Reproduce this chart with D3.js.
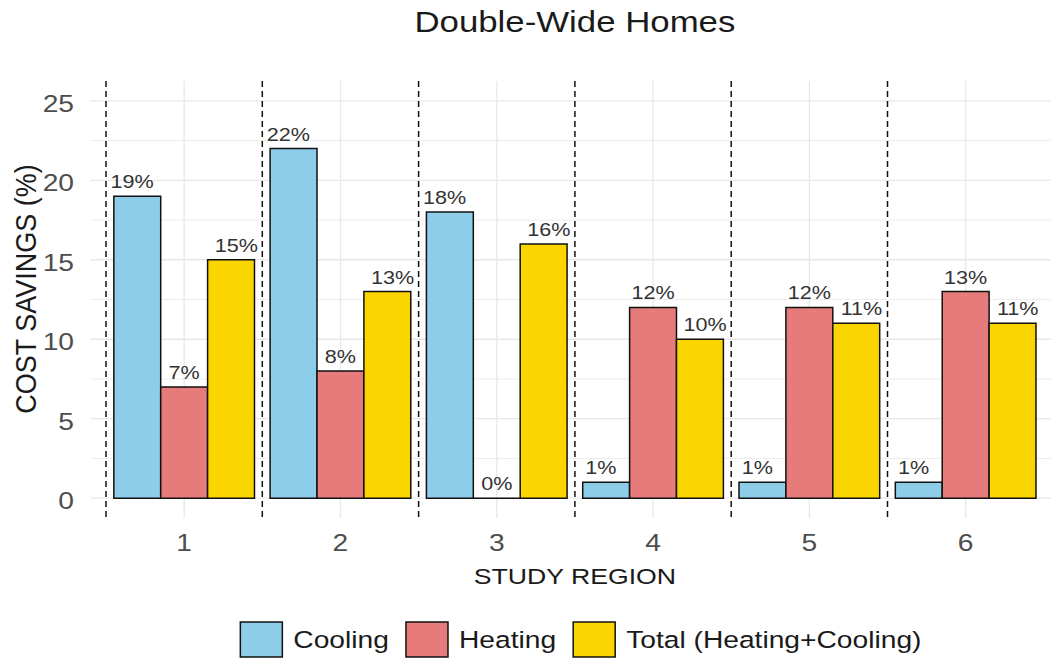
<!DOCTYPE html>
<html><head><meta charset="utf-8">
<script src="https://cdn.jsdelivr.net/npm/d3@7"></script>
<style>body{margin:0;background:#fff} text{font-family:"Liberation Sans",Arial,sans-serif}</style>
</head><body><svg id="chart" width="1051" height="660"></svg>
<script>
const regions = ["1","2","3","4","5","6"];
const seriesNames = ["Cooling","Heating","Total (Heating+Cooling)"];
const cooling = [19,22,18,1,1,1];
const heating = [7,8,0,12,12,13];
const total = [15,13,16,10,11,11];
const yTicks = [0,5,10,15,20,25];
const yMinorTicks = [2.5,7.5,12.5,17.5,22.5];
const colors = ["#8ecdea","#e77b7b","#fad500"];
const titleText = "Double-Wide Homes";
const xTitle = "STUDY REGION";
const yTitle = "COST SAVINGS (%)";

const seriesValues = [cooling, heating, total];
const data = [];
regions.forEach((r,i)=>seriesNames.forEach((s,j)=>data.push({region:r, series:s, value:seriesValues[j][i], k:j})));

const svg = d3.select("#chart");
const SX = 1.2;
function stext(parent, x, y, str, size, anchor, fill, sx){
  return parent.append("text")
    .attr("transform", `translate(${x},${y}) scale(${sx===undefined?SX:sx},1)`)
    .attr("text-anchor", anchor).attr("font-size", size).attr("fill", fill).text(str);
}

const x = d3.scaleBand().domain(regions).range([106, 1043.8]).padding(0);
const bw = x.bandwidth();
const xIn = d3.scaleBand().domain(seriesNames).range([0.05*bw, 0.95*bw]).padding(0);
const y = d3.scaleLinear().domain([-1.25, 26.25]).range([518, 81]);
const panelL = x(regions[0]) - 0.1*bw, panelR = x(regions[5]) + 1.1*bw;

// grid
const grid = svg.append("g");
grid.selectAll(".minor").data(yMinorTicks).join("line")
  .attr("x1", panelL).attr("x2", panelR).attr("y1", d=>y(d)).attr("y2", d=>y(d))
  .attr("stroke", "#ececec").attr("stroke-width", 1);
grid.selectAll(".major").data(yTicks).join("line")
  .attr("x1", panelL).attr("x2", panelR).attr("y1", d=>y(d)).attr("y2", d=>y(d))
  .attr("stroke", "#e8e8e8").attr("stroke-width", 1.3);
grid.selectAll(".vx").data(regions).join("line")
  .attr("x1", d=>x(d)+bw/2).attr("x2", d=>x(d)+bw/2).attr("y1", 81).attr("y2", 518)
  .attr("stroke", "#e8e8e8").attr("stroke-width", 1.3);

// dashed separators
svg.append("g").selectAll("line").data(regions).join("line")
  .attr("x1", d=>x(d)).attr("x2", d=>x(d)).attr("y1", 81).attr("y2", 518)
  .attr("stroke", "#111").attr("stroke-width", 1.5).attr("stroke-dasharray", "6,4");

// bars
svg.append("g").selectAll("path").data(data).join("path")
  .attr("d", d=>{
    const x0 = x(d.region)+xIn(d.series), x1 = x0 + xIn.bandwidth();
    const y0 = y(0), y1 = y(d.value);
    return `M${x0},${y0}H${x1}V${y1}H${x0}Z`;
  })
  .attr("fill", d=>colors[d.k]).attr("stroke", "#111").attr("stroke-width", 1.5).attr("stroke-linejoin","miter");

// value labels
const lab = svg.append("g");
data.forEach(d=>{
  const cx = x(d.region) + bw/2 + (d.k-1)*bw/3;
  stext(lab, cx, y(d.value)-8, d.value+"%", 18, "middle", "#333");
});

// y ticks
const yt = svg.append("g");
yTicks.forEach(t=>stext(yt, 74, y(t)+11, String(t), 23.5, "end", "#4d4d4d"));
// x ticks
const xt = svg.append("g");
regions.forEach(r=>stext(xt, x(r)+bw/2, 551, r, 23.5, "middle", "#4d4d4d"));

// titles
const cx = (panelL+panelR)/2;
stext(svg, cx, 32, titleText, 29, "middle", "#1a1a1a");
stext(svg, cx, 584, xTitle, 22.2, "middle", "#1a1a1a");
svg.append("text").attr("transform", `translate(36,289) scale(1.08,1) rotate(-90)`)
  .attr("text-anchor","middle").attr("font-size", 27).attr("fill","#1a1a1a").text(yTitle);

// legend
const leg = svg.append("g");
const keyW = 42, keyH = 35, gapKT = 11, gapItem = 17, legFont = 23.5;
const items = seriesNames.map((s,i)=>{
  const t = leg.append("text").attr("font-size", legFont).text(s);
  const w = t.node().getComputedTextLength()*SX; t.remove();
  return {s, i, w};
});
const totalW = d3.sum(items, d=>keyW+gapKT+d.w) + gapItem*(items.length-1);
let lx = 581 - totalW/2;
const keyY = 622;
items.forEach(it=>{
  leg.append("rect").attr("x", lx).attr("y", keyY).attr("width", keyW).attr("height", keyH)
    .attr("fill", colors[it.i]).attr("stroke", "#111").attr("stroke-width", 1.5);
  stext(leg, lx+keyW+gapKT, keyY+keyH/2+8.5, it.s, legFont, "start", "#1a1a1a");
  lx += keyW+gapKT+it.w+gapItem;
});
</script></body></html>
